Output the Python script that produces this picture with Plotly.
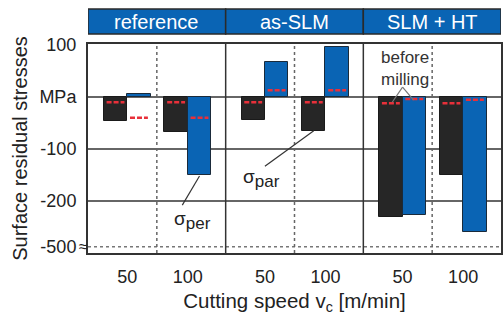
import plotly.graph_objects as go

# ---- data ----
groups = ["reference", "as-SLM", "SLM + HT"]
speeds = ["50", "100"]
sigma_par = [-46, -67, -44, -66, -231, -150]      # dark bars
sigma_per = [5, -150, 67, 96, -227, -260]         # blue bars
before_par = [-10, -10, -10, -10, -12, -12]       # red dashes on dark bars
before_per = [-40, -40, 13, 13, -4, -5]           # red dashes on blue bars
y_ticks = [100, 0, -100, -200]
y_ticktext = ["100", "MPa", "-100", "-200", "-500"]
BREAK_Y = -288  # position of axis break (labelled -500)

# ---- layout helpers ----
SUB_OFF = [0.57, 1.45]
BW = 0.34
pos = [2 * g + SUB_OFF[s] for g in range(len(groups)) for s in range(len(speeds))]
tick_text = [speeds[s] for g in range(len(groups)) for s in range(len(speeds))]
x_par = [p - BW / 2 for p in pos]
x_per = [p + BW / 2 for p in pos]

DARK = "#262626"
BLUE = "#0a64b4"
RED = "#e8303a"
LINE = "#333333"
FONT = "Arial, Liberation Sans, sans-serif"

fig = go.Figure()
fig.add_trace(go.Bar(x=x_par, y=sigma_par, width=BW, marker=dict(color=DARK, line=dict(color="#1a1a1a", width=1)), showlegend=False))
fig.add_trace(go.Bar(x=x_per, y=sigma_per, width=BW, marker=dict(color=BLUE, line=dict(color="#1a2a3a", width=1)), showlegend=False))

# red dashed "before milling" marks
def dash_xy(xs, ys):
    X, Y = [], []
    for xc, yv in zip(xs, ys):
        X += [xc - 0.13, xc + 0.13, None]
        Y += [yv, yv, None]
    return X, Y

for xs, ys in [(x_par, before_par), (x_per, before_per)]:
    X, Y = dash_xy(xs, ys)
    fig.add_trace(go.Scatter(x=X, y=Y, mode="lines", line=dict(color=RED, width=2.5, dash="5px,2px"), showlegend=False, hoverinfo="skip"))

shapes = []
# horizontal grid lines
for yv in [0, -100, -200]:
    shapes.append(dict(type="line", xref="paper", yref="y", x0=0, x1=1, y0=yv, y1=yv, line=dict(color=LINE, width=1.5), layer="below"))
shapes.append(dict(type="line", xref="paper", yref="y", x0=0, x1=1, y0=BREAK_Y, y1=BREAK_Y, line=dict(color="#777", width=1.5, dash="dot"), layer="below"))
# vertical dividers
for g in range(1, len(groups)):
    shapes.append(dict(type="line", xref="x", yref="paper", x0=2 * g, x1=2 * g, y0=0, y1=1, line=dict(color=LINE, width=1.5), layer="below"))
for g in range(len(groups)):
    shapes.append(dict(type="line", xref="x", yref="paper", x0=2 * g + 1, x1=2 * g + 1, y0=0, y1=1, line=dict(color="#666", width=1.5, dash="dot"), layer="below"))
# header boxes
for g in range(len(groups)):
    shapes.append(dict(type="rect", xref="x", yref="paper", x0=2 * g, x1=2 * g + 2, y0=1.048, y1=1.167, fillcolor=BLUE, line=dict(color="#2a2a2a", width=1.5), layer="below"))
# annotation leader lines
shapes.append(dict(type="line", xref="x", yref="y", x0=1.62, y0=-152, x1=1.37, y1=-208, line=dict(color=LINE, width=1.2)))
shapes.append(dict(type="line", xref="x", yref="y", x0=3.28, y0=-65, x1=2.57, y1=-133, line=dict(color=LINE, width=1.2)))
shapes.append(dict(type="line", xref="x", yref="y", x0=4.57, y0=19, x1=4.42, y1=-10, line=dict(color="#777", width=1.2)))
shapes.append(dict(type="line", xref="x", yref="y", x0=4.57, y0=19, x1=4.73, y1=-6, line=dict(color="#777", width=1.2)))

annotations = []
for g, name in enumerate(groups):
    annotations.append(dict(x=2 * g + 1, y=1.107, xref="x", yref="paper", yanchor="middle", xanchor="center",
                            text=name, showarrow=False, font=dict(color="white", size=20, family=FONT)))
sub_style = "<sub><span style='font-size:17px'>%s</span></sub>"
annotations.append(dict(x=1.52, y=-237, xref="x", yref="y", text="σ" + sub_style % "per", showarrow=False, font=dict(color="#222", size=19, family=FONT)))
annotations.append(dict(x=2.52, y=-156, xref="x", yref="y", text="σ" + sub_style % "par", showarrow=False, font=dict(color="#222", size=19, family=FONT)))
annotations.append(dict(x=4.60, y=54, xref="x", yref="y", text="before<br>milling", showarrow=False, font=dict(color="#333", size=17, family=FONT)))
annotations.append(dict(x=0, y=BREAK_Y, xref="paper", yref="y", text="≈", showarrow=False, xanchor="right", xshift=2, font=dict(color="#222", size=16, family=FONT)))

fig.update_layout(
    width=504, height=324,
    margin=dict(l=88, r=1, t=44, b=71),
    paper_bgcolor="white", plot_bgcolor="white",
    font=dict(family=FONT, color="#222"),
    bargap=0, barmode="overlay",
    shapes=shapes, annotations=annotations,
    xaxis=dict(range=[0, 6], tickvals=pos, ticktext=tick_text, showgrid=False, zeroline=False,
               showline=True, mirror=True, linecolor=LINE, linewidth=2, ticks="", ticklabelstandoff=6,
               tickfont=dict(size=18, color="#222"),
               title=dict(text="Cutting speed v<sub>c</sub> [m/min]", font=dict(size=20.5, color="#222"), standoff=8)),
    yaxis=dict(range=[-300, 102], tickvals=y_ticks + [BREAK_Y], ticktext=y_ticktext, showgrid=False, zeroline=False,
               showline=True, mirror=True, linecolor=LINE, linewidth=2, ticks="", ticklabelstandoff=6,
               tickfont=dict(size=18, color="#222"),
               title=dict(text="Surface residual stresses", font=dict(size=20, color="#222"), standoff=6)),
)

fig.write_html("out.html")
